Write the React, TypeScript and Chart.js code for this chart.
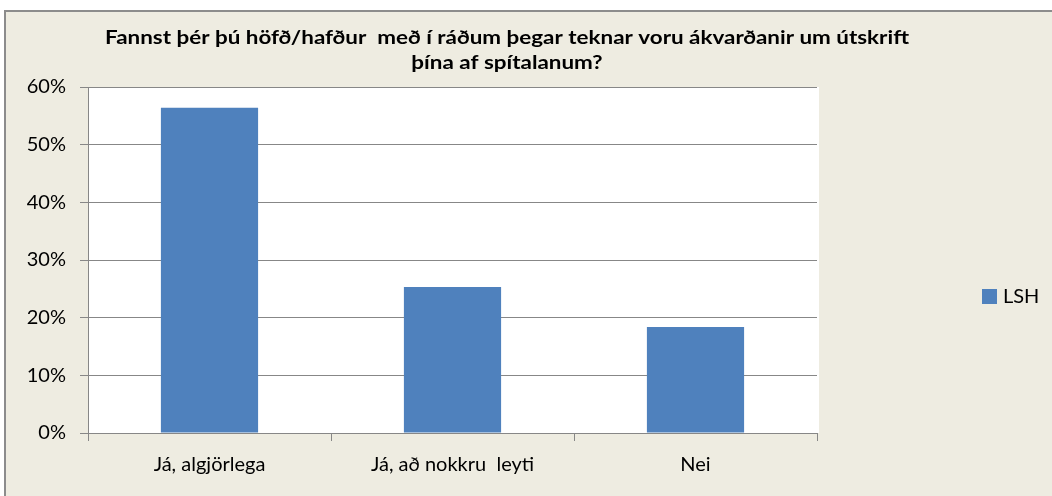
import { useEffect, useRef } from "react";
import { Chart, registerables } from "chart.js";

Chart.register(...registerables);

const categories = ["Já, algjörlega", "Já, að nokkru  leyti", "Nei"];
const seriesLabel = "LSH";
const seriesValues = [56.4, 25.3, 18.4];
const yTickValues = [0, 10, 20, 30, 40, 50, 60];
const titleLines = [
  "Fannst þér þú höfð/hafður  með í ráðum þegar teknar voru ákvarðanir um útskrift",
  "þína af spítalanum?",
];

const FONT = "Lato, 'Open Sans', sans-serif";
const BAR = "#4F81BD";
const GRID = "#878787";
const BG = "#EEECE1";

const decor = {
  id: "decor",
  beforeDraw(chart: any) {
    const { ctx, width, height, chartArea } = chart;
    ctx.save();
    ctx.fillStyle = "#ffffff";
    ctx.fillRect(0, 0, width, height);
    ctx.fillStyle = BG;
    ctx.fillRect(4, 10, width - 4, height - 10);
    ctx.strokeStyle = "#8c8c8c";
    ctx.lineWidth = 2;
    ctx.beginPath();
    ctx.moveTo(5, height);
    ctx.lineTo(5, 11);
    ctx.lineTo(width, 11);
    ctx.stroke();
    ctx.fillStyle = "#ffffff";
    ctx.fillRect(chartArea.left, chartArea.top, chartArea.right - chartArea.left + 2, chartArea.bottom - chartArea.top);
    ctx.restore();
  },
  afterDraw(chart: any) {
    const { ctx } = chart;
    ctx.save();
    // title
    ctx.fillStyle = "#000000";
    ctx.font = `bold 18px ${FONT}`;
    ctx.textBaseline = "alphabetic";
    ctx.textAlign = "center";
    const cx = 507;
    const target = 804;
    const w1 = ctx.measureText(titleLines[0]).width;
    const sx = target / w1;
    titleLines.forEach((line, i) => {
      ctx.save();
      ctx.translate(cx, 44 + i * 25);
      ctx.scale(sx, 1);
      ctx.fillText(line, 0, 0);
      ctx.restore();
    });
    // legend
    const ds = chart.data.datasets[0];
    ctx.fillStyle = ds.backgroundColor;
    ctx.fillRect(982, 289, 15, 15);
    ctx.fillStyle = "#000000";
    ctx.font = `20px ${FONT}`;
    ctx.textAlign = "left";
    ctx.textBaseline = "middle";
    ctx.fillText(ds.label, 1003, 297);
    ctx.restore();
  },
};

export default function App() {
  const ref = useRef<HTMLCanvasElement | null>(null);
  useEffect(() => {
    if (!ref.current) return;
    const chart = new Chart(ref.current, {
      type: "bar",
      data: {
        labels: categories,
        datasets: [
          {
            label: seriesLabel,
            data: seriesValues,
            backgroundColor: BAR,
            borderWidth: 0,
            categoryPercentage: 1,
            barPercentage: 0.4,
          },
        ],
      },
      options: {
        animation: false,
        responsive: false,
        maintainAspectRatio: false,
        layout: { padding: { left: 0, top: 87, right: 235, bottom: 0 } },
        plugins: {
          legend: { display: false },
          title: { display: false },
          tooltip: { enabled: false },
        },
        scales: {
          x: {
            afterFit(scale: any) {
              scale.height = 63;
            },
            grid: {
              display: true,
              drawOnChartArea: false,
              drawTicks: true,
              tickLength: 8,
              offset: true,
              color: GRID,
            },
            border: { display: true, color: GRID, width: 1 },
            ticks: {
              color: "#000000",
              font: { family: FONT, size: 20 },
              padding: 12,
              maxRotation: 0,
            },
          },
          y: {
            min: 0,
            max: 60,
            afterFit(scale: any) {
              scale.width = 88;
            },
            afterBuildTicks(scale: any) {
              scale.ticks = yTickValues.map((v) => ({ value: v }));
            },
            grid: {
              color: GRID,
              tickLength: 8,
              drawTicks: true,
            },
            border: { display: true, color: GRID, width: 1 },
            ticks: {
              color: "#000000",
              font: { family: FONT, size: 20 },
              padding: 14,
              callback: (v: any) => `${v}%`,
            },
          },
        },
      },
      plugins: [decor],
    });
    return () => chart.destroy();
  }, []);
  return (
    <div style={{ position: "fixed", left: 0, top: 0, width: 1052, height: 496 }}>
      <canvas ref={ref} width={1052} height={496} style={{ width: 1052, height: 496, display: "block" }} />
    </div>
  );
}
